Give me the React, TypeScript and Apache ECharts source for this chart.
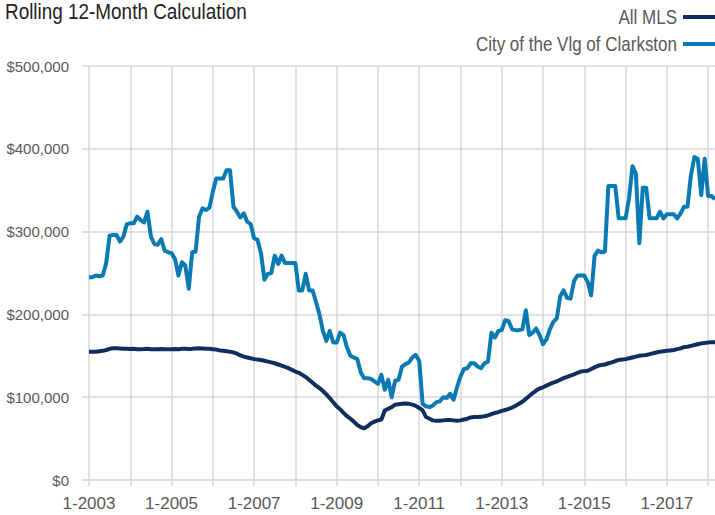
import React, { useEffect, useRef } from "react";
import * as echarts from "echarts";

const START_YEAR = 2003;
const MONTH_COUNT = 183;

const months: string[] = [];
for (let i = 0; i < MONTH_COUNT; i++) {
  months.push(`${(i % 12) + 1}-${START_YEAR + Math.floor(i / 12)}`);
}

// values in $ thousands
const allMlsK: number[] = [
  155, 155, 155, 155.5, 156, 157, 158.5, 159, 159, 158.8, 158.5, 158.5,
  158.3, 158.5, 158, 158, 158.2, 158.5, 158, 157.8, 158, 158.2, 158, 158,
  158, 158.2, 158, 158.5, 158.5, 158.3, 158.5, 158.8, 159, 158.8, 158.5, 158.5,
  158, 157.5, 156.5, 156, 155.5, 155, 154, 152.5, 150.5, 149, 148, 147,
  146, 145.5, 145, 144, 143, 142, 141, 139.5, 138, 136.5, 135, 133,
  131, 129.5, 127, 124.5, 121, 117.5, 114, 111, 107.5, 103.5, 99, 94,
  89, 85.5, 81, 77, 74, 70.5, 66.5, 64, 62.5, 65, 68.5, 70.5,
  72, 73, 84, 86, 88, 91, 91.5, 92, 92.5, 92, 91, 89.5,
  87, 84, 76, 74, 72, 71.5, 71.5, 72, 72.5, 72.5, 72, 71.5,
  72, 73, 74, 75.5, 76, 76, 76.5, 77, 78, 79.5, 81, 82,
  83.5, 84.5, 86, 87.5, 89.5, 92, 94.5, 98, 101.5, 105, 108, 110.5,
  112, 114, 116, 117.5, 119, 121, 123, 124.5, 126, 127.5, 129.5, 131,
  131.5, 132, 134, 136, 138, 139, 139.5, 141, 142, 143.5, 145, 145.5,
  146, 147, 148, 149, 150, 150.5, 151, 152, 153, 154, 155, 155.5,
  156, 156.5, 157, 158, 159, 160.5, 161, 162, 163, 164, 165, 165.5,
  166, 166.5, 166.5,
];

const clarkstonK: number[] = [
  245, 245, 247, 246, 247, 262, 295, 296, 296, 288, 294, 309,
  310, 310, 318, 314, 311, 324, 294, 285, 284, 291, 277, 275,
  274, 267, 247, 263, 259, 231, 275, 276, 318, 328, 326, 329,
  348, 364, 364, 364, 374, 374, 330, 324, 317, 322, 312, 309,
  292, 290, 274, 242, 249, 250, 271, 261, 271, 262, 262, 262,
  262, 229, 229, 249, 229, 229, 215, 200, 180, 168, 180, 166,
  166, 178, 175, 160, 150, 148, 146, 130, 123, 123, 122, 119,
  116, 127, 109, 121, 100, 120, 121, 137, 140, 142, 148, 151,
  144, 92, 89, 88, 90, 94, 95, 100, 99, 104, 97, 112,
  125, 134, 135, 141, 141, 137, 135, 141, 143, 178, 172, 180,
  181, 193, 192, 182, 181, 181, 182, 205, 175, 178, 183, 175,
  164, 170, 182, 191, 195, 222, 229, 220, 219, 240, 247, 247,
  247, 239, 223, 271, 277, 275, 276, 355, 355, 355, 316, 316,
  316, 340, 379, 370, 286, 353, 353, 316, 316, 316, 324, 316,
  321, 321, 321, 316, 322, 330, 330, 368, 390, 388, 344, 388,
  343, 343, 339,
];

const yTicks: number[] = [0, 100000, 200000, 300000, 400000, 500000];

const TITLE = "Rolling 12-Month Calculation";
const SERIES_NAMES = ["All MLS", "City of the Vlg of Clarkston"];
const COLORS = ["#0f2e5f", "#0a7ab2"];
const FONT = "'Liberation Sans', Arial, sans-serif";
const GRID_COLOR = "#d9d9d9";
const TEXT_COLOR = "#595959";

export default function App() {
  const ref = useRef<HTMLDivElement>(null);

  useEffect(() => {
    if (!ref.current) return;
    const chart = echarts.init(ref.current, undefined, { renderer: "svg" });

    const legendRows = [17, 44];
    const legendGraphics: any[] = [];
    SERIES_NAMES.forEach((name, i) => {
      legendGraphics.push({
        type: "text",
        x: 677,
        y: legendRows[i],
        scaleX: 0.85,
        style: {
          text: name,
          font: `20px ${FONT}`,
          fill: TEXT_COLOR,
          align: "right",
          verticalAlign: "middle",
        },
      });
      legendGraphics.push({
        type: "line",
        shape: { x1: 683, y1: legendRows[i], x2: 715, y2: legendRows[i] },
        style: { stroke: COLORS[i], lineWidth: 4 },
      });
    });

    chart.setOption({
      animation: false,
      backgroundColor: "#ffffff",
      graphic: [
        {
          type: "text",
          x: 5,
          y: 0,
          scaleX: 0.86,
          style: {
            text: TITLE,
            font: `22px ${FONT}`,
            fill: "#222222",
            align: "left",
            verticalAlign: "top",
          },
        },
        ...legendGraphics,
      ],
      grid: {
        left: 89,
        right: 0,
        top: 66,
        bottom: 35,
        containLabel: false,
        outerBoundsMode: "none",
      },
      xAxis: {
        type: "category",
        data: months,
        boundaryGap: false,
        axisLine: { show: true, lineStyle: { color: GRID_COLOR, width: 1.5 } },
        axisTick: {
          show: true,
          length: 6,
          interval: (i: number) => i % 12 === 0,
          lineStyle: { color: GRID_COLOR, width: 1.5 },
        },
        axisLabel: {
          interval: (i: number) => i % 24 === 0,
          fontFamily: FONT,
          fontSize: 17,
          lineHeight: 18,
          color: TEXT_COLOR,
          margin: 14,
        },
        splitLine: {
          show: true,
          interval: (i: number) => i % 12 === 0,
          lineStyle: { color: GRID_COLOR, width: 1.5 },
        },
      },
      yAxis: {
        type: "value",
        min: yTicks[0],
        max: yTicks[yTicks.length - 1],
        interval: yTicks[1] - yTicks[0],
        axisLine: { show: false },
        axisTick: {
          show: true,
          length: 7,
          lineStyle: { color: GRID_COLOR, width: 1.5 },
        },
        axisLabel: {
          margin: 20,
          fontFamily: FONT,
          fontSize: 15,
          color: TEXT_COLOR,
          formatter: (v: number) => "$" + v.toLocaleString("en-US"),
        },
        splitLine: { show: true, lineStyle: { color: GRID_COLOR, width: 1.5 } },
      },
      series: [
        {
          name: SERIES_NAMES[0],
          type: "line",
          data: allMlsK.map((v) => v * 1000),
          showSymbol: false,
          symbol: "none",
          lineStyle: { color: COLORS[0], width: 4, join: "round" },
          itemStyle: { color: COLORS[0] },
        },
        {
          name: SERIES_NAMES[1],
          type: "line",
          data: clarkstonK.map((v) => v * 1000),
          showSymbol: false,
          symbol: "none",
          lineStyle: { color: COLORS[1], width: 4, join: "round" },
          itemStyle: { color: COLORS[1] },
        },
      ],
    });
    return () => chart.dispose();
  }, []);

  return (
    <div
      ref={ref}
      style={{ position: "absolute", left: 0, top: 0, width: 715, height: 515 }}
    />
  );
}
